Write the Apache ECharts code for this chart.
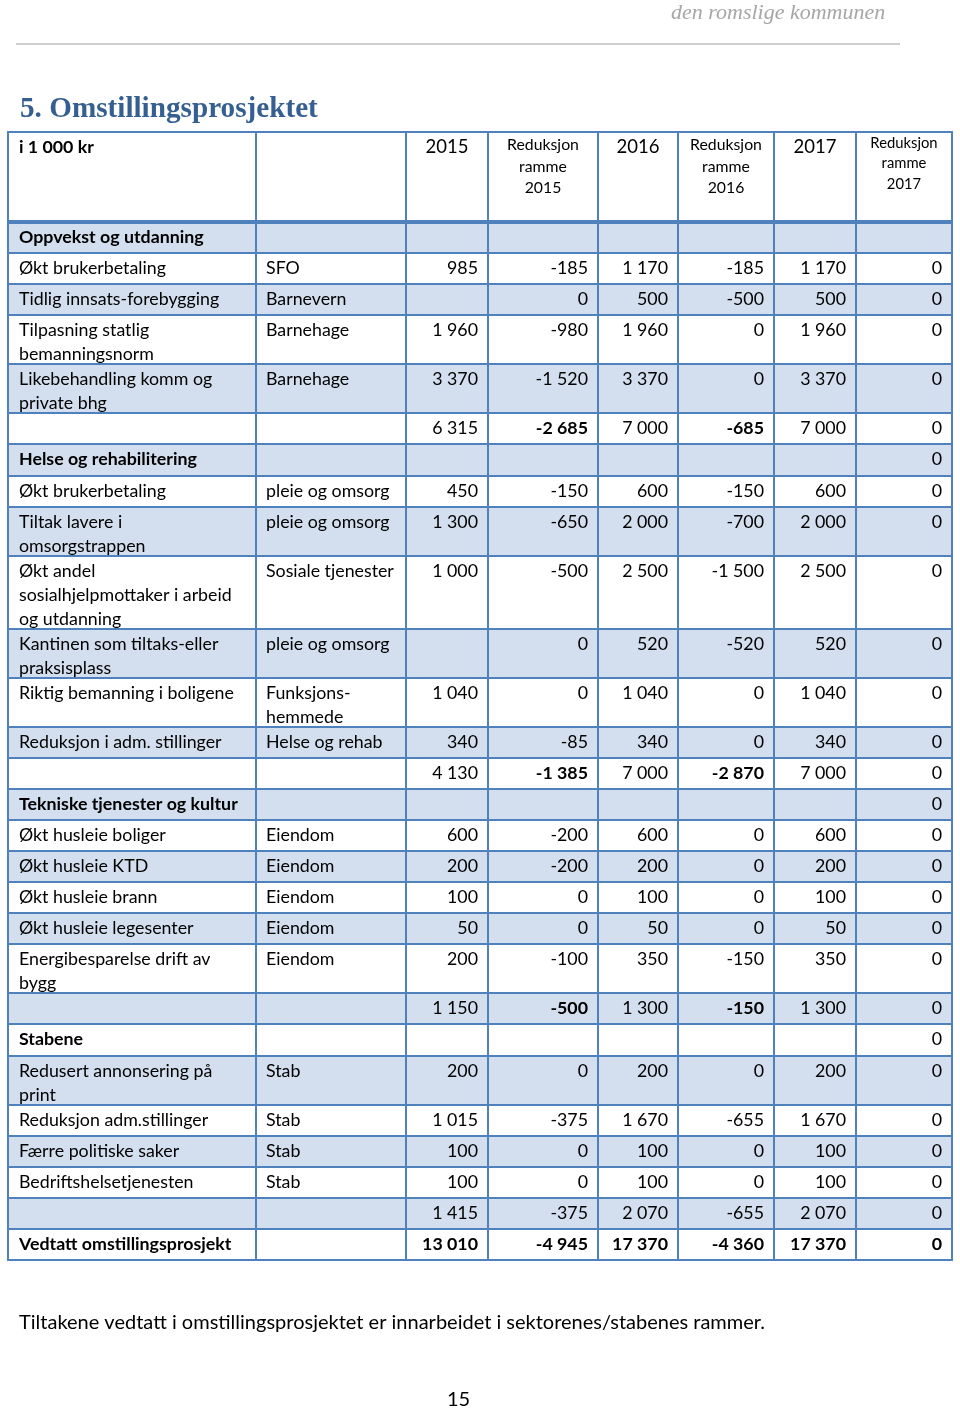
<!DOCTYPE html>
<html><head><meta charset="utf-8">
<script src="https://cdn.jsdelivr.net/npm/echarts@6/dist/echarts.min.js"></script>
<style>html,body{margin:0;padding:0;background:#fff}#c{width:960px;height:1409px}</style>
</head><body><div id="c"></div>
<script>
// ---------- data ----------
const headers = ['i 1 000 kr', '', '2015', 'Reduksjon\nramme\n2015', '2016', 'Reduksjon\nramme\n2016', '2017', 'Reduksjon\nramme\n2017'];
const tiltak = [
  'Oppvekst og utdanning', 'Økt brukerbetaling', 'Tidlig innsats-forebygging', 'Tilpasning statlig\nbemanningsnorm',
  'Likebehandling komm og\nprivate bhg', '', 'Helse og rehabilitering', 'Økt brukerbetaling',
  'Tiltak lavere i\nomsorgstrappen', 'Økt andel\nsosialhjelpmottaker i arbeid\nog utdanning', 'Kantinen som tiltaks-eller\npraksisplass',
  'Riktig bemanning i boligene', 'Reduksjon i adm. stillinger', '', 'Tekniske tjenester og kultur',
  'Økt husleie boliger', 'Økt husleie KTD', 'Økt husleie brann', 'Økt husleie legesenter',
  'Energibesparelse drift av\nbygg', '', 'Stabene', 'Redusert annonsering på\nprint', 'Reduksjon adm.stillinger',
  'Færre politiske saker', 'Bedriftshelsetjenesten', '', 'Vedtatt omstillingsprosjekt'
];
const sektor = [
  '', 'SFO', 'Barnevern', 'Barnehage', 'Barnehage', '', '', 'pleie og omsorg', 'pleie og omsorg',
  'Sosiale tjenester', 'pleie og omsorg', 'Funksjons-\nhemmede', 'Helse og rehab', '', '',
  'Eiendom', 'Eiendom', 'Eiendom', 'Eiendom', 'Eiendom', '', '', 'Stab', 'Stab', 'Stab', 'Stab', '', ''
];
const belop2015 =     [null, 985, null, 1960, 3370, 6315, null, 450, 1300, 1000, null, 1040, 340, 4130, null, 600, 200, 100, 50, 200, 1150, null, 200, 1015, 100, 100, 1415, 13010];
const reduksjon2015 = [null, -185, 0, -980, -1520, -2685, null, -150, -650, -500, 0, 0, -85, -1385, null, -200, -200, 0, 0, -100, -500, null, 0, -375, 0, 0, -375, -4945];
const belop2016 =     [null, 1170, 500, 1960, 3370, 7000, null, 600, 2000, 2500, 520, 1040, 340, 7000, null, 600, 200, 100, 50, 350, 1300, null, 200, 1670, 100, 100, 2070, 17370];
const reduksjon2016 = [null, -185, -500, 0, 0, -685, null, -150, -700, -1500, -520, 0, 0, -2870, null, 0, 0, 0, 0, -150, -150, null, 0, -655, 0, 0, -655, -4360];
const belop2017 =     [null, 1170, 500, 1960, 3370, 7000, null, 600, 2000, 2500, 520, 1040, 340, 7000, null, 600, 200, 100, 50, 350, 1300, null, 200, 1670, 100, 100, 2070, 17370];
const reduksjon2017 = [null, 0, 0, 0, 0, 0, 0, 0, 0, 0, 0, 0, 0, 0, 0, 0, 0, 0, 0, 0, 0, 0, 0, 0, 0, 0, 0, 0];
const sectionRows = [0, 6, 14, 21];
const boldReductionRows = [5, 13, 20];
const totalRow = 27;

// ---------- layout ----------
const W = 960, H = 1409;
const colEdges = [8, 256, 406, 488, 598, 678, 774, 856, 952];
const headerTop = 132, headerH = 90;
const BORDER = '#4f81bd', BAND = '#d3dfee';
const FONT = 'Lato, "Open Sans", sans-serif';
const BODY = 17.8;
const numCols = [belop2015, reduksjon2015, belop2016, reduksjon2016, belop2017, reduksjon2017];

function fmt(v) {
  if (v === null || v === undefined) return '';
  const s = String(Math.abs(v)).replace(/\B(?=(\d{3})+(?!\d))/g, ' ');
  return (v < 0 ? '-' : '') + s;
}
function lines(t) { return t ? t.split('\n').length : 1; }

// row boundaries (page units, mapped through the axes)
const edgesY = [headerTop, headerTop + headerH];
let acc = headerTop + headerH;
tiltak.forEach((t, i) => {
  const n = Math.max(lines(t), lines(sektor[i]));
  acc += (n === 1 ? 31.1 : n * 24 + 1);
  edgesY.push(Math.round(acc));
});

const cells = [];
for (let c = 0; c < 8; c++) cells.push([c, 0]);
tiltak.forEach((t, i) => { for (let c = 0; c < 8; c++) cells.push([c, i + 1]); });

function cellInfo(c, r) {
  if (r === 0) {
    const t = headers[c];
    if (c === 0) return { text: t, align: 'left', bold: true, size: BODY, lh: 24 };
    if (c === 7) return { text: t, align: 'center', bold: false, size: 14.8, lh: 20.5, dy: -3 };
    if (c % 2 === 1) return { text: t, align: 'center', bold: false, size: 15.8, lh: 21.5, dy: -1 };
    return { text: t, align: 'center', bold: false, size: 18.5, lh: 24 };
  }
  const i = r - 1;
  if (c === 0) return { text: tiltak[i], align: 'left', bold: sectionRows.includes(i) || i === totalRow, size: BODY, lh: 24 };
  if (c === 1) return { text: sektor[i], align: 'left', bold: false, size: BODY, lh: 24 };
  const v = numCols[c - 2][i];
  const bold = i === totalRow || (boldReductionRows.includes(i) && (c === 3 || c === 5));
  return { text: fmt(v), align: 'right', bold, size: BODY, lh: 24 };
}

const chart = echarts.init(document.getElementById('c'), null, { renderer: 'canvas' });
chart.setOption({
  animation: false,
  backgroundColor: '#fff',
  grid: { left: 0, right: 0, top: 0, bottom: 0 },
  xAxis: { type: 'value', min: 0, max: W, show: false },
  yAxis: { type: 'value', min: 0, max: H, inverse: true, show: false },
  title: [
    { text: 'den romslige kommunen', left: 671, top: 2, padding: 0,
      textStyle: { fontFamily: '"Liberation Serif", serif', fontStyle: 'italic', fontWeight: 'normal', fontSize: 22, color: '#a6a6a6' } },
    { text: '5. Omstillingsprosjektet', left: 20, top: 95, padding: 0,
      textStyle: { fontFamily: '"Liberation Serif", "DejaVu Serif", serif', fontWeight: 'bold', fontSize: 29.2, color: '#365f91' } },
    { text: 'Tiltakene vedtatt i omstillingsprosjektet er innarbeidet i sektorenes/stabenes rammer.', left: 19, top: 1313, padding: 0,
      textStyle: { fontFamily: FONT, fontWeight: 'normal', fontSize: 20, color: '#000' } },
    { text: '15', left: 447, top: 1390, padding: 0,
      textStyle: { fontFamily: FONT, fontWeight: 'normal', fontSize: 20, color: '#000' } }
  ],
  graphic: [
    { type: 'line', shape: { x1: 16, y1: 44, x2: 900, y2: 44 }, style: { stroke: '#bfbfbf', lineWidth: 1.5 } }
  ],
  series: [
    {
      type: 'custom',
      coordinateSystem: 'cartesian2d',
      data: cells,
      renderItem(params, api) {
        const c = api.value(0), r = api.value(1);
        const p0 = api.coord([colEdges[c], edgesY[r]]);
        const p1 = api.coord([colEdges[c + 1], edgesY[r + 1]]);
        const info = cellInfo(c, r);
        const shaded = r > 0 && (r - 1) % 2 === 0;
        let tx;
        if (info.align === 'left') tx = p0[0] + (c === 0 ? 11 : 10);
        else if (info.align === 'right') tx = p1[0] - 10;
        else tx = (p0[0] + p1[0]) / 2;
        const children = [
          { type: 'rect', shape: { x: p0[0], y: p0[1], width: p1[0] - p0[0], height: p1[1] - p0[1] },
            style: { fill: shaded ? BAND : '#fff', stroke: BORDER, lineWidth: 2 } }
        ];
        if (info.text) {
          children.push({ type: 'text', style: {
            text: info.text, x: tx, y: p0[1] + 3.5 + (info.dy || 0),
            fill: '#000', font: (info.bold ? 'bold ' : '') + info.size + 'px ' + FONT,
            align: info.align, textAlign: info.align, verticalAlign: 'top', textVerticalAlign: 'top',
            lineHeight: info.lh } });
        }
        return { type: 'group', children };
      }
    },
    {
      type: 'custom',
      coordinateSystem: 'cartesian2d',
      z: 5,
      data: [[0]],
      renderItem(params, api) {
        const a = api.coord([colEdges[0], headerTop + headerH]);
        const b = api.coord([colEdges[8], headerTop + headerH]);
        return { type: 'line', shape: { x1: a[0], y1: a[1], x2: b[0], y2: b[1] }, style: { stroke: BORDER, lineWidth: 4 } };
      }
    }
  ]
});
</script></body></html>
